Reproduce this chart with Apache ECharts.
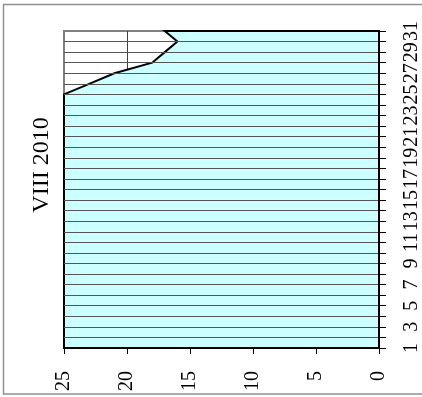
<!DOCTYPE html>
<html>
<head>
<meta charset="utf-8">
<script src="https://cdn.jsdelivr.net/npm/echarts@6/dist/echarts.min.js"></script>
<style>
html,body{margin:0;padding:0;background:#fff;}
#chart{width:422px;height:397px;}
</style>
</head>
<body>
<div id="chart"></div>
<script>
// Data
const titleText = 'VIII 2010';
const days = ['1','2','3','4','5','6','7','8','9','10','11','12','13','14','15','16','17','18','19','20','21','22','23','24','25','26','27','28','29','30','31'];
const values = [25,25,25,25,25,25,25,25,25,25,25,25,25,25,25,25,25,25,25,25,25,25,25,25,25,23,21,18,17,16,17];
const valueTicks = [0,5,10,15,20,25];

const chart = echarts.init(document.getElementById('chart'), null, {renderer:'canvas'});
const serif = 'Liberation Serif';

const option = {
  animation: false,
  backgroundColor: '#ffffff',
  grid: {
    left: 64, right: 42, top: 31, bottom: 49,
    show: true, borderColor: '#808080', borderWidth: 2, backgroundColor: 'transparent'
  },
  xAxis: {
    type: 'value',
    inverse: true,
    min: valueTicks[0], max: valueTicks[valueTicks.length-1], interval: 5,
    position: 'bottom',
    z: 0,
    axisLine: {show: true, onZero: false, lineStyle: {color: '#000', width: 2}},
    axisTick: {show: true, inside: false, length: 6, lineStyle: {color: '#000', width: 1}},
    axisLabel: {rotate: 90, margin: 23, fontFamily: serif, fontSize: 20, color: '#000'},
    splitLine: {show: true, showMinLine: false, showMaxLine: false, lineStyle: {color: '#404040', width: 1}}
  },
  yAxis: {
    type: 'category',
    data: days,
    boundaryGap: false,
    position: 'right',
    z: 10,
    axisLine: {show: true, onZero: false, lineStyle: {color: '#000', width: 2}},
    axisTick: {show: true, inside: false, length: 7, interval: 0, lineStyle: {color: '#000', width: 1}},
    axisLabel: {rotate: 90, margin: 23, interval: 1, fontFamily: serif, fontSize: 20, color: '#000'},
    splitLine: {show: true, interval: 0, showMinLine: false, showMaxLine: false, lineStyle: {color: '#555555', width: 1}}
  },
  series: [{
    type: 'custom',
    z: 2,
    data: values.map((v, i) => [v, i]),
    encode: {x: 0, y: 1},
    renderItem: function (params, api) {
      if (params.dataIndex !== 0) return null;
      const pts = values.map((v, i) => api.coord([v, i]));
      pts.push(api.coord([0, values.length - 1]));
      pts.push(api.coord([0, 0]));
      return {
        type: 'polygon',
        shape: {points: pts},
        style: {fill: '#CCFFFF', stroke: '#000000', lineWidth: 2, lineJoin: 'miter'}
      };
    }
  }],
  graphic: [
    {
      type: 'rect', z: -10, silent: true,
      shape: {x: 3.5, y: 4.5, width: 440, height: 389.5},
      style: {fill: 'none', stroke: '#909090', lineWidth: 1.5}
    },
    {
      type: 'text', x: 42, y: 165, rotation: Math.PI / 2,
      style: {text: titleText, fontFamily: serif, fontSize: 24, fill: '#000', align: 'center', verticalAlign: 'middle'}
    }
  ]
};
chart.setOption(option);
</script>
</body>
</html>
